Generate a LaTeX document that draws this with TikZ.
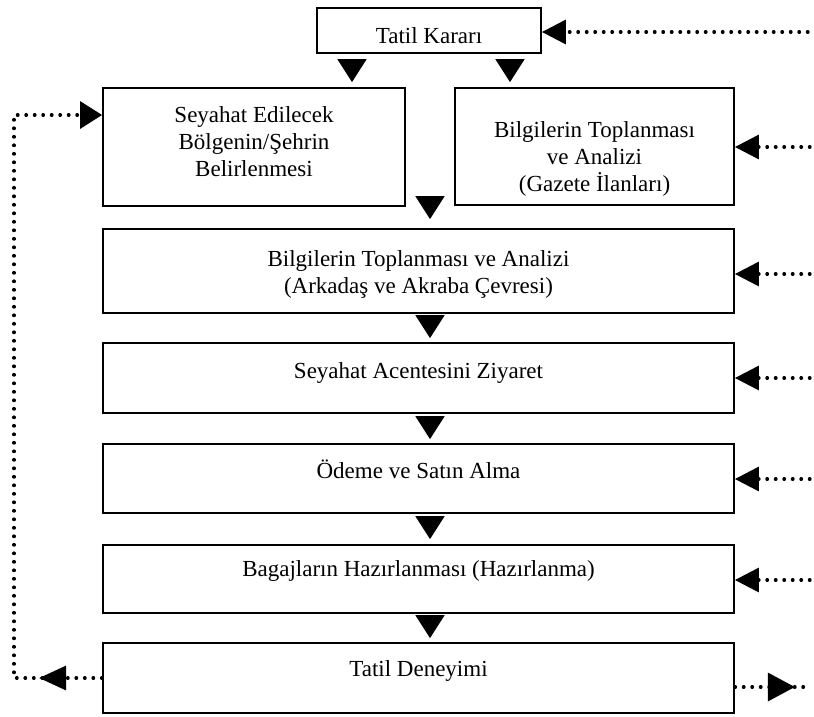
\documentclass[tikz,border=0pt]{standalone}
\usepackage{fontspec}
\setmainfont{Liberation Serif}
\usetikzlibrary{arrows.meta,decorations.markings}

% text block of a box, raised (or lowered) by #1 without changing its size
\newcommand\boxtext[2]{\raisebox{#1}[\height][\depth]{\begin{tabular}[b]{@{}c@{}}#2\end{tabular}}}

\tikzset{
  box/.style={draw, line width=1.8pt, inner sep=0pt, minimum width=631pt,
    font=\fontsize{23}{27}\selectfont},
  flowtip/.style={line width=1.8pt,
    -{Triangle[width=29pt,length=23pt]}},
  dotline/.style={line width=3.2pt, line cap=round, dash pattern=on 0.6pt off 7.9pt},
  feed/.style={dotline, -{Triangle[width=24pt,length=24pt]}},
  midtip/.style 2 args={decoration={markings,
      mark=at position #1 with {\arrow{Triangle[width=#2,length=27pt]}}},
    postaction={decorate}}
}

\begin{document}
\begin{tikzpicture}[x=1pt,y=-1pt]
\useasboundingbox (0,0) rectangle (814,716);

% process boxes
\node[box, minimum width=224pt, minimum height=45pt] (kar) at (429,30.5)
  {\boxtext{-7.5pt}{Tatil Kararı}};
\node[box, minimum width=302pt, minimum height=118pt] (sey) at (254,147)
  {\boxtext{2.8pt}{Seyahat Edilecek\\Bölgenin/Şehrin\\Belirlenmesi}};
\node[box, minimum width=279pt, minimum height=117pt] (gaz) at (594.5,146.5)
  {\boxtext{-12.5pt}{Bilgilerin Toplanması\\ve Analizi\\(Gazete İlanları)}};
\node[box, minimum height=84pt] (ark) at (418.5,271)
  {\boxtext{-3.2pt}{Bilgilerin Toplanması ve Analizi\\(Arkadaş ve Akraba Çevresi)}};
\node[box, minimum height=70pt] (ace) at (418.5,378)
  {\boxtext{4.8pt}{Seyahat Acentesini Ziyaret}};
\node[box, minimum height=69pt] (ode) at (418.5,478.5)
  {\boxtext{5.3pt}{Ödeme ve Satın Alma}};
\node[box, minimum height=68pt] (bag) at (418.5,579)
  {\boxtext{7.8pt}{Bagajların Hazırlanması (Hazırlanma)}};
\node[box, minimum height=70pt] (den) at (418.5,678)
  {\boxtext{7.3pt}{Tatil Deneyimi}};

% columns of the downward triangles
\coordinate (cl) at (352,0);
\coordinate (cr) at (510,0);
\coordinate (cm) at (430,197);

\draw[flowtip, shorten <=7pt, shorten >=5pt] (kar.south -| cl) -- (sey.north -| cl);
\draw[flowtip, shorten <=7pt, shorten >=5pt] (kar.south -| cr) -- (gaz.north -| cr);
\draw[flowtip, shorten >=9pt] (cm) -- (ark.north -| cm);
\draw[flowtip, shorten <=4pt, shorten >=4pt] (ark.south -| cm) -- (ace.north -| cm);
\draw[flowtip, shorten <=4pt, shorten >=4pt] (ace.south -| cm) -- (ode.north -| cm);
\draw[flowtip, shorten <=4pt, shorten >=5pt] (ode.south -| cm) -- (bag.north -| cm);
\draw[flowtip, shorten <=4pt, shorten >=4pt] (bag.south -| cm) -- (den.north -| cm);

% outside influences entering from the right
\coordinate (in0) at (808,32);
\coordinate (in1) at (810,147);
\coordinate (in2) at (810,274);
\coordinate (in3) at (810,378);
\coordinate (in4) at (810,479);
\coordinate (in5) at (810,580);
\draw[feed] (in0) -- (in0 -| kar.east);
\draw[feed] (in1) -- (in1 -| gaz.east);
\draw[feed] (in2) -- (in2 -| ark.east);
\draw[feed] (in3) -- (in3 -| ace.east);
\draw[feed] (in4) -- (in4 -| ode.east);
\draw[feed] (in5) -- (in5 -| bag.east);

% feedback loop from the experience back to choosing the destination
\coordinate (lb) at (14,679);
\coordinate (lt) at (14,115);
\draw[dotline, -{Triangle[width=27pt,length=22pt]}, midtip={63pt}{24pt}]
  (den.west) -- (den.west -| lb) -- (lt) -- (lt -| sey.west);

% outcome leaving to the right
\coordinate (out) at (810,687);
\draw[dotline, midtip={60pt}{28pt}] (den.east |- out) -- (out);
\end{tikzpicture}
\end{document}
